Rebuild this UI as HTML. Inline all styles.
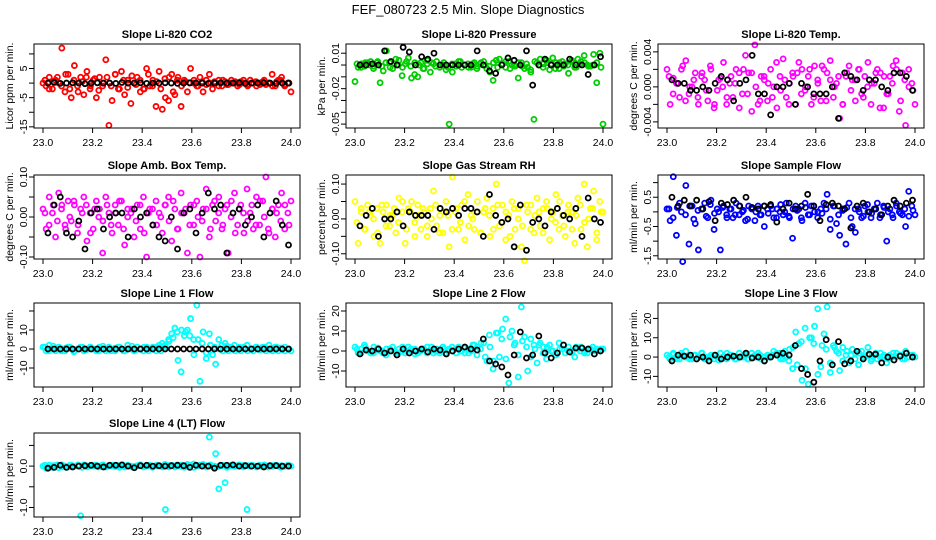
<!DOCTYPE html>
<html><head><meta charset="utf-8"><style>
html,body{margin:0;padding:0;background:#fff;width:936px;height:540px;overflow:hidden}
svg{display:block;font-family:"Liberation Sans",sans-serif}
</style></head><body>
<svg id="chart" width="936" height="540" viewBox="0 0 936 540">
<text x="468" y="14" text-anchor="middle" font-size="13">FEF_080723  2.5 Min. Slope Diagnostics</text>
</svg>
<script>
const xTicks = [23.0, 23.2, 23.4, 23.6, 23.8, 24.0];
const xTickLabels = ["23.0","23.2","23.4","23.6","23.8","24.0"];

const co2Color = [0,-1,2,-2,1,0,12,-3,3,-5,6,-1,2,-4,4,-2,1,-5,2,-1,8,-14.5,-6,3,-2,4,-4,1,-7,0,2,-3,-2,5,-1,1,-8,4,-9,-5,-6,3,-4,2,-8,1,-3,5,0,-1,2,-3,1,3,-2,0,1,-1,0.5,-0.5,1,0,-1,0.5,0,-0.5,1,0,-1,0,0.5,-0.5,0,3,-1,1,2,-1,0,-3];
const co2Band = [1,-2,0.5,2,-1,3,-2,1,-3,0.5,2,-1,1.5,-2.5,0,2,-1,3,-2,1,-1.5,2.5,-0.5,1,-2,3,-1,0.5,-2,1.5,2,-3,1,-1,0.5,0,1,-1,0.5,-0.5,0,0.5,-1,1,-0.5,0,0.5,-0.5,1,-1,0,0.5,-0.5,1,0,-1,0.5,1,-0.5,0];
const co2Black = [0,0.2,-0.1,0,0.1,0,-0.2,0,0.1,0,0,-0.1,0.2,0,0,0.1,-0.1,0,0,0.1,0,-0.1,0,0.1,0,0,-0.1,0,0.1,0,0,0.1,-0.1,0,0,0.1,0,-0.1,0,0];
const presColor = [-0.014,-0.002,0.001,-0.001,0.002,0.003,-0.001,0.002,-0.015,-0.005,0.012,0.002,-0.003,0.005,0.004,-0.009,0.001,0.006,-0.011,-0.008,-0.01,0.002,-0.003,0.004,-0.006,0.001,0.003,-0.002,0.000,-0.004,-0.05,-0.006,0.001,0.003,-0.002,0.000,0.001,-0.002,0.002,-0.001,0.001,0.003,-0.003,-0.006,-0.013,0.004,0.005,0.001,-0.002,0.003,0.000,-0.001,-0.011,0.002,-0.003,-0.002,-0.006,-0.046,0.002,0.005,0.001,0.004,-0.004,0.006,0.002,-0.003,0.003,0.001,-0.007,0.004,-0.002,0.005,0.003,0.008,0.000,-0.001,0.009,-0.015,0.01,-0.05];
const presBand = [0.001,-0.002,0.002,0,-0.003,0.003,-0.001,0.002,-0.002,0.001,0,-0.002,0.003,-0.001,0.002,0,-0.003,0.001,0.002,-0.001,0,0.002,-0.002,0.001,-0.001,0.003,0,-0.002,0.001,-0.003,0.002,0,-0.001,0.002,-0.002,0.001,0.003,-0.003,0,0.002,-0.001,0.001,-0.004,0.003,0,-0.002,0.002,0.001,-0.003,0.002,-0.001,0,0.003,-0.002,0.001,0.002,-0.001,0,0.002,-0.002];
const presBlack = [0,0,0.001,0,0.012,0.003,0,0.015,0.011,0,0.007,0.005,0.01,0,0,0,0,0,0,0.012,0,-0.005,-0.007,0,0.006,0.004,0,0.012,-0.017,0,0.005,0,0,0,0.005,0,0,-0.008,0,0.007];
const liTempColor = [0.002,-0.002,0.001,0.0004,-0.0012,0.0024,0.003,-0.0008,0,0.0016,-0.002,0.0012,0.0008,-0.0016,0.002,-0.0024,-0.0004,0.001,0.0028,-0.002,0.0004,-0.0012,0.002,0.0016,-0.0008,0.0036,0.0016,-0.0028,0.0048,-0.002,0.0012,0.0008,-0.0016,0.002,0,-0.0024,0.0012,0.0032,-0.0012,0.0004,0.0016,-0.002,0.0028,0.002,-0.0004,0.0012,-0.002,0.0024,0.0008,-0.0016,0.002,0.0016,0.003,-0.0012,0.0004,-0.0036,-0.002,0.0012,0.0024,0.0008,-0.0016,0.002,-0.0008,0.0012,0.0028,-0.002,0.0004,0.002,0.0016,-0.0024,-0.0008,0.0012,0.0024,0.003,-0.0028,0.0016,-0.0044,0.002,0.0004,-0.002];
const liTempBand = [0.0012,-0.0008,0.0004,0.002,-0.0016,0,0.0008,-0.0012,0.0016,-0.0004,0.0024,-0.002,0.0008,0,-0.0012,0.0012,0.0004,-0.0024,0.002,-0.0008,0.0016,0,-0.0016,0.0012,0.0004,-0.0012,0.0028,-0.0004,0.0008,-0.002,0.0012,0.0016,-0.0008,0,0.002,-0.0012,0.0004,0.0024,-0.0016,0.0008,0,0.0012,-0.002,0.0016,-0.0004,0.0008,0.002,-0.0012,0,0.0004,0.0016,-0.0024,0.0012,-0.0008,0.0004,0.002,-0.0016,0.0008,0,-0.0004];
const liTempBlack = [0.0008,0.0004,0.0004,-0.0004,-0.0004,0,-0.0004,0.0004,0.0012,0.0008,-0.0016,0.0004,0.0008,0.0036,-0.0008,-0.0008,-0.0032,0,0,0.0004,-0.002,0.0004,0,-0.0008,-0.0008,-0.0008,0,-0.0036,0.0016,0.0012,0.0008,-0.0004,0.0008,0.0008,0,-0.0004,0.0016,0.0016,0.0012,-0.0004];
const boxTempColor = [0.02,-0.03,0.05,0.01,-0.05,0.06,0.03,-0.02,0.04,-0.01,0.03,-0.04,0.02,0.05,-0.06,0.01,-0.03,0.04,0.02,-0.09,0.05,0.01,-0.04,0.03,-0.02,0.04,-0.07,0.02,0.01,-0.05,0.03,-0.03,0.05,-0.1,0.02,-0.02,0.04,0.01,-0.04,0.03,0.05,-0.06,0.02,-0.03,0.06,0.01,-0.09,0.03,-0.02,0.04,-0.1,0.02,0.07,-0.05,0.03,-0.01,0.05,-0.03,0.02,-0.09,0.04,0.06,-0.02,0.03,-0.04,0.07,0.01,-0.03,0.05,-0.02,0.04,0.1,-0.04,0.02,-0.05,0.03,0.06,-0.03,0.01,0.04];
const boxTempBand = [0.01,-0.02,0.03,-0.01,0.02,-0.03,0,0.04,-0.02,0.01,0.03,-0.04,0.02,0,-0.01,0.03,-0.02,0.01,0.04,-0.03,0,0.02,-0.01,0.03,-0.04,0.01,0.02,-0.02,0,0.03,-0.01,0.04,-0.03,0.01,0.02,-0.02,0.03,0,-0.01,0.02,-0.03,0.04,0.01,-0.02,0.03,0,-0.04,0.02,0.01,-0.01,0.03,-0.02,0.04,0,-0.03,0.02,0.01,-0.01,0.03,-0.02];
const boxTempBlack = [-0.04,0.03,0.05,-0.04,-0.05,-0.01,-0.08,0.01,0.02,-0.03,0,0.01,0.01,-0.05,0.02,0,0.01,-0.02,-0.05,-0.06,0,-0.08,0.01,0.02,-0.04,0.01,0.06,0.02,0.03,-0.09,0.01,0.02,-0.02,0,0.03,-0.05,0.01,0.04,-0.02,-0.07];
const rhColor = [0.05,-0.07,0.02,-0.03,0.04,0.01,-0.05,0.03,-0.07,0.02,0.04,-0.02,0.01,-0.04,0.06,0.02,-0.07,0.03,0.05,-0.01,0.04,-0.03,0.02,-0.05,0.03,0.08,-0.02,0.01,-0.04,0.05,-0.08,0.12,0.02,-0.03,0.04,-0.06,0.07,0.01,-0.03,0.05,-0.04,0.02,0.06,-0.05,0.03,0.1,-0.02,0.04,-0.06,0.01,0.05,-0.03,0.03,-0.08,-0.12,0.02,0.04,-0.04,0.06,-0.02,0.03,0.05,-0.06,0.02,0.07,-0.03,0.01,-0.05,0.04,0.02,-0.07,0.06,-0.03,0.1,-0.08,0.03,0.08,-0.06,0.05,0.02];
const rhBand = [-0.01,0.03,-0.03,0.02,0,-0.04,0.04,-0.02,0.01,0.03,-0.01,0.05,-0.03,0.02,-0.05,0.01,0.03,-0.02,0,0.04,-0.04,0.02,0.01,-0.03,0.03,-0.01,0.05,-0.02,0,0.02,-0.04,0.03,0.01,-0.03,0.04,-0.01,0.02,-0.05,0.03,0,-0.02,0.04,-0.03,0.01,0.02,-0.04,0.03,0,-0.01,0.05,-0.02,0.02,-0.03,0.01,0.04,-0.01,0,0.03,-0.04,0.02];
const rhBlack = [-0.02,0.01,0.03,-0.05,0.00,0,0.02,-0.02,0.02,0.01,0.01,0.01,-0.03,0.03,0.02,0.03,0.01,0.03,0.03,0.02,-0.05,0.07,0.01,-0.01,0.00,-0.08,0.04,-0.09,-0.01,0.00,-0.02,0.02,0.03,0.01,0.00,0.03,-0.05,0.06,0.00,-0.01];
const flowColor = [0.1,-0.3,1.2,-0.8,0.3,-1.7,0.9,-1.1,0.2,-0.4,-1.3,0.1,0.3,-0.2,0.4,-0.6,0.1,-1.3,0.2,-0.1,0.1,-0.2,0.3,-0.1,0,-0.3,0.2,0.1,-0.3,0.2,-0.1,-0.5,0.1,0.2,-0.2,0.1,0,-0.1,0.3,-0.2,-0.9,0.2,0.1,-0.3,0.3,-0.1,0.2,0,-0.2,0.1,0.3,0.6,-0.6,0.2,-0.4,-0.8,0.1,-1.1,0.3,-0.5,-0.7,0.1,-0.2,0.2,0,-0.2,0.1,0.3,-0.1,0.2,-1.0,0.1,-0.2,0.3,0,-0.1,-0.5,0.7,0.2,-0.1];
const flowBand = [0.1,-0.2,0.15,0,-0.1,0.2,-0.25,0.05,0.1,-0.15,0.25,-0.05,0,0.15,-0.2,0.1,-0.1,0.2,0.05,-0.25,0.15,0,-0.1,0.2,-0.05,0.1,-0.2,0.25,0,-0.15,0.1,0.05,-0.2,0.15,-0.1,0.2,0,-0.05,0.1,-0.25,0.2,-0.1,0.05,0.15,-0.2,0.1,0,-0.15,0.25,-0.05,0.1,-0.2,0.15,0,-0.1,0.2,-0.05,0.1,-0.15,0.05];
const flowBlack = [0.5,0.2,0.4,0.2,0.4,0.1,0.35,-0.3,0.3,0.25,0.4,0.2,0.5,0.15,0.1,0.2,0.25,-0.35,0.1,0.3,0.1,0.2,0.6,0.2,-0.3,0.25,0.3,0.2,0.1,-0.55,0.2,0.3,0,0.1,-0.1,0.2,0.4,0.2,0.3,0.4];
const line1Color = [1,-1,2,0,-1,1,0,-1,1,0,-1,0,1,-1,0,1,0,-1,1,0,-1,1,0,-1,1,0,-1,2,0,-1,1,0,-1,1,0,1,-1,2,3,1,5,8,11,-6,-12,7,10,16,5,23,-17,9,-5,8,-3,-8,5,2,3,-1,1,2,0,-1,1,2,0,-1,1,0,1,-1,2,0,1,-1,0,1,0,-1];
const line1Band = [1,-1,1.5,0,-1,0.5,1,-1.5,0,1,-0.5,1,0,-1,1.5,0,-1,0.5,1,-1,0,1.5,-0.5,0,1,-1,0.5,1,-1,2,4,6,9,10,9,7,-3,5,3,-2,2,1,0,-1,1.5,0,-1,1,0.5,-1,0,1,-0.5,1,0,-1,1,0.5,-1,0];
const line1Black = [0,0,0,0,0,0,0,0,0,0,0,0,0,0,0,0,0,0,0,0,0,0,0,0,0,0,0,0,0,0,0,0,0,0,0,0,0,0,0,0];
const line2Color = [2,-1,1,3,0,-1,2,1,0,-1,1,0,2,-1,1,0,-1,2,0,1,-1,0,1,2,0,-1,1,0,2,-1,1,0,1,2,0,-1,1,0,3,2,1,4,-5,2,-9,9,-3,11,16,-16,10,4,-13,22,7,-10,6,3,-6,4,2,-4,3,0,-2,4,1,-1,2,0,-3,1,2,0,-1,1,0,1,0,1];
const line2Band = [1,-1,2,0,-1,1.5,0,-2,1,0,-1,2,0,1,-1.5,0,1,-1,2,0,-1,1,0,2,-1,0,1.5,-1,3,-2,4,-3,8,-5,9,6,-4,7,3,-2,5,2,-3,1,3,-1,2,0,-2,1,3,0,-1,2,0,-1,1,2,0,1];
const line2Black = [-1.5,0.5,0,1,-1,0,-2,1,-1,0,1,-0.5,1,0.5,-1.5,0,1,2,1,0.5,6,-5,-6.5,-8,-12,-2,9.5,-3.5,-2,7.5,-1,-3.5,-1,3,-0.5,1.5,1.5,1,-1.5,0];
const line3Color = [1,-1,2,0,-1,1,3,0,-1,1,0,2,-1,0,1,-1,0,2,0,-1,1,0,-1,2,0,1,-1,0,1,2,-1,0,1,0,3,1,2,-1,0,4,-6,13,7,-12,15,-14,10,16,25,-5,12,26,-8,6,3,-7,5,1,-3,4,2,-4,3,0,5,-2,1,-1,2,0,-3,1,2,0,1,-1,3,0,1,0];
const line3Band = [0,1.5,-1,2,0,-1,1,0,2,-1,0,1,-1.5,0,2,1,-1,0,1,-1,2,0,1,-2,0,1,2,-1,3,-2,5,-4,8,-6,10,7,-9,6,4,-3,5,2,-2,3,1,-1,2,0,1,-1,2,0,1,-1,0,2,1,-1,0,1];
const line3Black = [-2,1,0.5,1,-1,0,-2,1,-1,0,0.5,0,2,-0.5,0,-2,0,1,2,1,6,-6,-9,-13,-2,9,-4,8,-3.5,-2,3,-1,1.5,1.5,-3,0,-1.5,0.5,2,0];
const line4Color = [0,-0.05,0.02,-0.03,0.01,-0.04,0.03,0,-0.02,0.02,0,0.01,-1.2,0.03,-0.02,0.01,0,0.02,-0.01,0.03,-0.02,0,0.02,-0.01,0.01,0,-0.02,0.02,0,-0.01,0.01,0.03,-0.02,0,0.02,-0.01,0.01,0,-0.02,-1.05,0.01,0.02,-0.02,0,0.02,-0.03,0.04,0.01,0.05,0,0.02,0.04,0.01,0.7,-0.01,0.3,-0.55,0.01,-0.4,0,0.02,-0.01,0.01,0,0.02,-1.05,0,0.01,-0.02,0.02,0,0.01,0,-0.01,0.02,0,0.01,-0.01,0.02,0];
const line4Band = [0.02,-0.03,0.01,0.03,-0.02,0,0.02,-0.01,0.03,-0.03,0.01,0,0.02,-0.02,0.03,-0.01,0,0.02,-0.03,0.01,0.02,-0.02,0,0.03,-0.01,0.01,-0.03,0.02,0,0.04,-0.02,0.01,0.03,-0.01,0,0.02,-0.03,0.01,0.02,-0.02,0.03,0,-0.01,0.02,-0.03,0.01,0,0.03,-0.02,0.01,0.02,-0.01,0,0.03,-0.02,0.01,0.02,-0.03,0,0.01];
const line4Black = [-0.05,-0.03,0.02,-0.03,-0.02,0,0.01,0.02,0,-0.02,0.02,0.02,0.03,0,-0.04,0.01,0.02,0,0.01,0,0.01,0.02,0.01,-0.03,0.02,0,0,-0.05,0.02,0.02,0.03,0,0.01,0,0,-0.02,0.01,0.01,0,0];

const panels = [
 {name:"co2", title:"Slope Li-820 CO2", ylab:"Licor ppm per min.", col:0,row:0, ymin:-15.4,ymax:13.4, ticks:[-15,-10,-5,0,5,10], labels:["-15","","-5","","5",""], color:"#ff0000", c:co2Color, d:co2Band, b:co2Black},
 {name:"pressure", title:"Slope Li-820 Pressure", ylab:"kPa per min.", col:1,row:0, ymin:-0.0533,ymax:0.0178, ticks:[-0.05,-0.04,-0.03,-0.02,-0.01,0,0.01], labels:["-0.05","","","-0.02","","","0.01"], color:"#00cd00", c:presColor, d:presBand, b:presBlack},
 {name:"li-temp", title:"Slope Li-820 Temp.", ylab:"degrees C per min.", col:2,row:0, ymin:-0.0047,ymax:0.0049, ticks:[-0.004,-0.002,0,0.002,0.004], labels:["-0.004","","0.000","","0.004"], color:"#ff00ff", c:liTempColor, d:liTempBand, b:liTempBlack},
 {name:"box-temp", title:"Slope Amb. Box Temp.", ylab:"degrees C per min.", col:0,row:1, ymin:-0.105,ymax:0.105, ticks:[-0.1,-0.05,0,0.05,0.1], labels:["-0.10","","0.00","","0.10"], color:"#ff00ff", c:boxTempColor, d:boxTempBand, b:boxTempBlack},
 {name:"gas-rh", title:"Slope Gas Stream RH", ylab:"percent per min.", col:1,row:1, ymin:-0.115,ymax:0.126, ticks:[-0.1,-0.05,0,0.05,0.1], labels:["-0.10","","0.00","","0.10"], color:"#ffff00", c:rhColor, d:rhBand, b:rhBlack},
 {name:"sample-flow", title:"Slope Sample Flow", ylab:"ml/min per min.", col:2,row:1, ymin:-1.61,ymax:1.26, ticks:[-1.5,-1,-0.5,0,0.5,1], labels:["-1.5","","-0.5","","0.5",""], color:"#0000ff", c:flowColor, d:flowBand, b:flowBlack},
 {name:"line1-flow", title:"Slope Line 1 Flow", ylab:"ml/min per min.", col:0,row:2, ymin:-20,ymax:24.2, ticks:[-10,0,10,20], labels:["-10","0","10",""], color:"#00ffff", c:line1Color, d:line1Band, b:line1Black},
 {name:"line2-flow", title:"Slope Line 2 Flow", ylab:"ml/min per min.", col:1,row:2, ymin:-18,ymax:24, ticks:[-10,0,10,20], labels:["-10","0","10","20"], color:"#00ffff", c:line2Color, d:line2Band, b:line2Black},
 {name:"line3-flow", title:"Slope Line 3 Flow", ylab:"ml/min per min.", col:2,row:2, ymin:-15.5,ymax:28, ticks:[-10,0,10,20], labels:["-10","0","10","20"], color:"#00ffff", c:line3Color, d:line3Band, b:line3Black},
 {name:"line4-flow", title:"Slope Line 4 (LT) Flow", ylab:"ml/min per min.", col:0,row:3, ymin:-1.23,ymax:0.80, ticks:[-1,-0.5,0,0.5], labels:["-1.0","","0.0",""], color:"#00ffff", c:line4Color, d:line4Band, b:line4Black}
];
const colLeft=[34,346,658], rowTop=[44,175,303,433], W=266, H=84;
const NS="http://www.w3.org/2000/svg";
const svg=document.getElementById('chart');
function mk(tag,attrs,parent){const e=document.createElementNS(NS,tag);for(const k in attrs)e.setAttribute(k,attrs[k]);(parent||svg).appendChild(e);return e;}

panels.forEach(p=>{
  const L=colLeft[p.col], T=rowTop[p.row];
  const g=mk('g',{});
  
  
  const xs=v=>L+9+(v-23)*(W-18);
  const ys=v=>T+H-(v-p.ymin)/(p.ymax-p.ymin)*H;
  const t=mk('text',{x:L+W/2,y:T-6,'text-anchor':'middle','font-size':11,'font-weight':'bold'},g);
  t.textContent=p.title;
  
  
  const yl=mk('text',{transform:`translate(${L-21},${T+H/2}) rotate(-90)`,'text-anchor':'middle','font-size':10.5},g);
  yl.textContent=p.ylab;
  
  
  const pts=mk('g',{fill:'none','stroke-width':1.8},g);
  
  
  p.c.forEach((v,i)=>{
    const x=23+i/(p.c.length-1);
    const c=mk('circle',{cx:xs(x),cy:ys(v),r:2.5,stroke:p.color},pts);
    
    
  });
  p.d.forEach((v,i)=>{
    const x=23.008+0.984*i/(p.d.length-1);
    const c=mk('circle',{cx:xs(x),cy:ys(v),r:2.5,stroke:p.color},pts);
    
    
  });
  p.b.forEach((v,i)=>{
    const x=23.02+0.97*i/(p.b.length-1);
    const c=mk('circle',{cx:xs(x),cy:ys(v),r:2.5,stroke:'#000'},pts);
    
    
  });
  const box=mk('rect',{x:L,y:T,width:W,height:H,fill:'none',stroke:'#000','stroke-width':1},g);
  
  
  xTicks.forEach((v,i)=>{
    mk('line',{x1:xs(v),x2:xs(v),y1:T+H,y2:T+H+5,stroke:'#000'},g);
    const tx=mk('text',{x:xs(v),y:T+H+18,'text-anchor':'middle','font-size':10.5},g);
    tx.textContent=xTickLabels[i];
    
    
  });
  p.ticks.forEach((v,i)=>{
    mk('line',{x1:L-5,x2:L,y1:ys(v),y2:ys(v),stroke:'#000'},g);
    if(p.labels[i]){
      const ty=mk('text',{transform:`translate(${L-7},${ys(v)}) rotate(-90)`,'text-anchor':'middle','font-size':10.5},g);
      ty.textContent=p.labels[i];
      
      
    }
  });
});
</script>
</body></html>
